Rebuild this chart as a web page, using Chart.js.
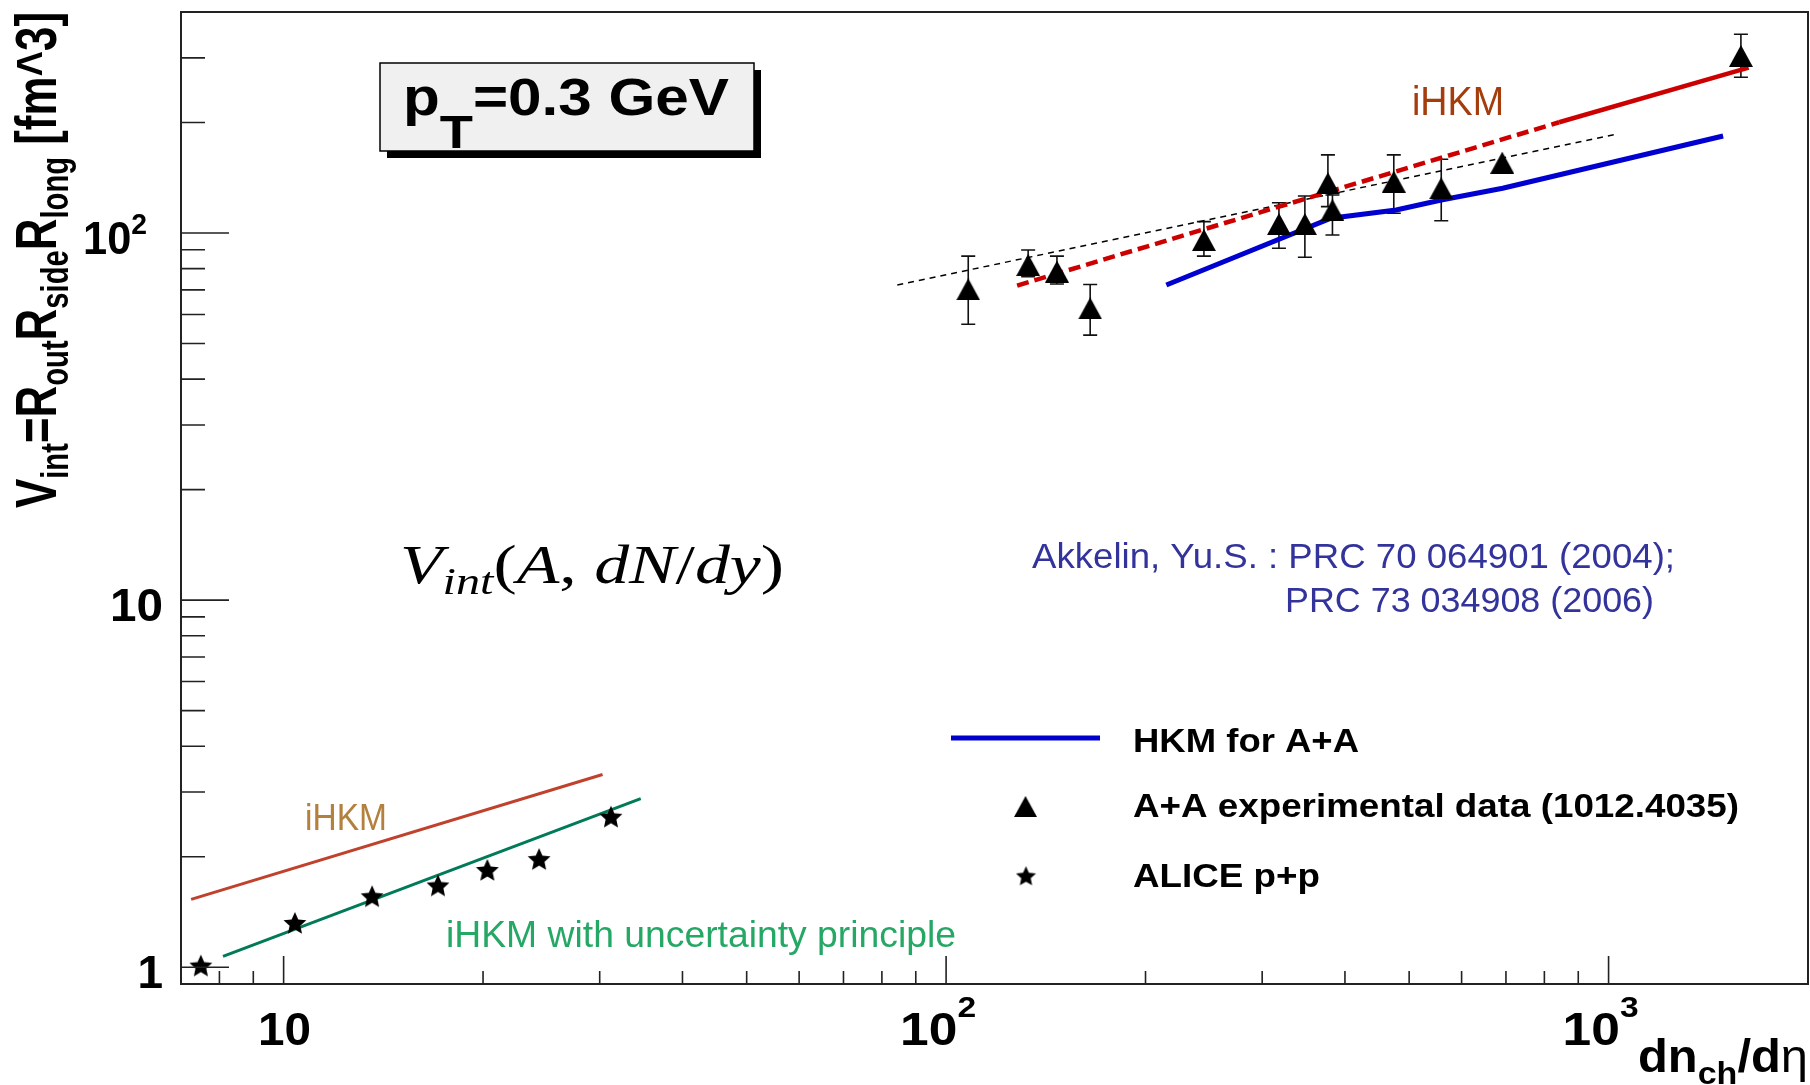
<!DOCTYPE html>
<html>
<head>
<meta charset="utf-8">
<script src="https://cdn.jsdelivr.net/npm/chart.js@4.4.1/dist/chart.umd.min.js"></script>
<style>
  html, body { margin: 0; padding: 0; background: #fff; overflow: hidden; }
  #wrap { width: 1810px; height: 1085px; }
  canvas { display: block; }
</style>
</head>
<body>
<div id="wrap"><canvas id="vint" width="1810" height="1085"></canvas></div>
<script>
// A+A experimental data: dn_ch/deta, V_int and error bar ends
const aaMult = [108, 133, 147, 165, 245, 318, 348, 377, 383, 474, 559, 691, 1584];
const aaVint = [70.2, 81.8, 78.5, 62.3, 95.7, 105.8, 105.8, 136.6, 115.5, 138, 132.4, 155.5, 303.6];
const aaLow  = [56.4, 76.0, 72.6, 52.7, 86.5, 90.9, 85.9, 118, 98.8, 113.2, 108, 155.5, 265.7];
const aaHigh = [86.5, 89.9, 86.5, 72.4, 107.4, 120.9, 126.1, 163.2, 126.9, 163.2, 158.8, 155.5, 347.8];

// ALICE p+p
const ppMult = [7.5, 10.4, 13.6, 17.1, 20.3, 24.3, 31.2];
const ppVint = [1.01, 1.32, 1.56, 1.67, 1.84, 1.97, 2.57];

// HKM for A+A
const hkmMult = [215, 381, 478, 559, 692, 1489];
const hkmVint = [72.2, 109.7, 115.5, 123, 132.4, 183.8];

// iHKM for A+A (dashed part, then solid part)
const ihkmDashMult = [128, 842];
const ihkmDashVint = [71.9, 200.3];
const ihkmSolidMult = [842, 1627];
const ihkmSolidVint = [200.3, 282.1];

// thin dashed trend through the A+A data
const trendMult = [84.4, 1030];
const trendVint = [72.2, 186.1];

// iHKM for p+p, without and with the uncertainty principle
const ppIhkmMult = [7.25, 30.3];
const ppIhkmVint = [1.53, 3.35];
const ppUncMult = [8.1, 34.6];
const ppUncVint = [1.07, 2.88];

// axis ranges and labelled decades
const xMin = 7, xMax = 2000, yMin = 0.9, yMax = 400;
const xDecades = [10, 100, 1000];
const xDecadeText = [['10', ''], ['10', '2'], ['10', '3']];
const yDecades = [1, 10, 100];
const yDecadeText = [['1', ''], ['10', ''], ['10', '2']];

const legendLabels = ['HKM for A+A', 'A+A experimental data (1012.4035)', 'ALICE p+p'];

const pts = (xs, ys) => xs.map((v, i) => ({ x: v, y: ys[i] }));

// filled five-point star used as a marker
function starImage(size) {
  const c = document.createElement('canvas');
  c.width = c.height = size;
  const g = c.getContext('2d');
  const r = size / 2, ri = r * 0.47;
  g.beginPath();
  for (let i = 0; i < 10; i++) {
    const a = -Math.PI / 2 + i * Math.PI / 5;
    const rr = i % 2 ? ri : r;
    g.lineTo(r + rr * Math.cos(a), r * 1.08 + rr * Math.sin(a));
  }
  g.closePath();
  g.fillStyle = '#000';
  g.fill();
  return c;
}

// filled triangle centred on its bounding box, like the ROOT marker
function triangleImage(w, h) {
  const c = document.createElement('canvas');
  c.width = w;
  c.height = h;
  const g = c.getContext('2d');
  g.beginPath();
  g.moveTo(w / 2, 0);
  g.lineTo(w, h);
  g.lineTo(0, h);
  g.closePath();
  g.fillStyle = '#000';
  g.fill();
  return c;
}

const star = starImage(24);
const smallStar = starImage(21);
const triangle = triangleImage(24, 22);

// draws a row of text pieces (sub/superscripts via dy), optionally squeezed to a width
function drawRuns(ctx, parts, x, y, color, width, align) {
  ctx.save();
  ctx.fillStyle = color;
  ctx.textBaseline = 'alphabetic';
  ctx.textAlign = 'left';
  let total = 0;
  for (const p of parts) {
    ctx.font = p.font;
    p.w = ctx.measureText(p.text).width;
    total += p.w;
  }
  const sx = width ? width / total : 1;
  let x0 = x;
  if (align === 'center') x0 = x - total * sx / 2;
  if (align === 'right') x0 = x - total * sx;
  ctx.translate(x0, y);
  ctx.scale(sx, 1);
  let cx = 0;
  for (const p of parts) {
    ctx.font = p.font;
    ctx.fillText(p.text, cx, p.dy || 0);
    cx += p.w;
  }
  ctx.restore();
}

const B = s => 'bold ' + s + 'px "Liberation Sans", Arial, sans-serif';
const N = s => s + 'px "Liberation Sans", Arial, sans-serif';
const SI = s => 'italic ' + s + 'px "Liberation Serif", "Times New Roman", serif';
const SR = s => s + 'px "Liberation Serif", "Times New Roman", serif';

const rootFrame = {
  id: 'rootFrame',
  beforeDatasetsDraw(chart) {
    const { ctx, scales: { x, y } } = chart;
    ctx.save();
    ctx.strokeStyle = '#111';
    ctx.lineWidth = 1.6;
    aaMult.forEach((m, i) => {
      if (aaLow[i] === aaHigh[i]) return;
      const px = x.getPixelForValue(m);
      const y0 = y.getPixelForValue(aaLow[i]);
      const y1 = y.getPixelForValue(aaHigh[i]);
      ctx.beginPath();
      ctx.moveTo(px, y0); ctx.lineTo(px, y1);
      ctx.moveTo(px - 7, y0); ctx.lineTo(px + 7, y0);
      ctx.moveTo(px - 7, y1); ctx.lineTo(px + 7, y1);
      ctx.stroke();
    });
    ctx.restore();
  },
  afterDraw(chart) {
    const { ctx, chartArea: a, scales: { x, y } } = chart;
    ctx.save();

    // frame
    ctx.strokeStyle = '#222';
    ctx.lineWidth = 2;
    ctx.strokeRect(a.left, a.top, a.right - a.left, a.bottom - a.top);

    // tick marks, drawn inside the frame
    ctx.lineWidth = 1.6;
    ctx.beginPath();
    for (let d = 1; d <= 1000; d *= 10) {
      for (let k = 1; k <= 9; k++) {
        const v = k * d;
        if (v > xMin && v < xMax) {
          const px = x.getPixelForValue(v);
          ctx.moveTo(px, a.bottom);
          ctx.lineTo(px, a.bottom - (k === 1 ? 28 : 13));
        }
        if (v >= yMin && v < yMax) {
          const py = y.getPixelForValue(v);
          ctx.moveTo(a.left, py);
          ctx.lineTo(a.left + (k === 1 ? 48 : 24), py);
        }
      }
    }
    ctx.stroke();

    // decade labels
    xDecades.forEach((v, i) => {
      const [base, sup] = xDecadeText[i];
      const parts = [{ text: base, font: B(46) }];
      if (sup) parts.push({ text: sup, font: B(30), dy: -28 });
      drawRuns(ctx, parts, x.getPixelForValue(v) - (sup ? 8 : -1), a.bottom + 61,
        '#000', sup ? 76 : 53, 'center');
    });
    yDecades.forEach((v, i) => {
      const [base, sup] = yDecadeText[i];
      const parts = [{ text: base, font: B(46) }];
      if (sup) parts.push({ text: sup, font: B(30), dy: -20 });
      const w = base.length === 1 ? 0 : (sup ? 64 : 53);
      drawRuns(ctx, parts, a.left - (sup ? 34 : 18), y.getPixelForValue(v) + 21, '#000', w, 'right');
    });

    // x title
    drawRuns(ctx, [
      { text: 'dn', font: B(46) },
      { text: 'ch', font: B(32), dy: 12 },
      { text: '/d', font: B(46) },
      { text: 'η', font: N(46) }
    ], 1638, 1072, '#000', 170);

    // y title, rotated
    ctx.save();
    ctx.translate(56, 508);
    ctx.rotate(-Math.PI / 2);
    drawRuns(ctx, [
      { text: 'V', font: B(57) },
      { text: 'int', font: B(38), dy: 12 },
      { text: '=R', font: B(57) },
      { text: 'out', font: B(38), dy: 12 },
      { text: 'R', font: B(57) },
      { text: 'side', font: B(38), dy: 12 },
      { text: 'R', font: B(57) },
      { text: 'long', font: B(38), dy: 12 },
      { text: ' [fm^3]', font: B(57) }
    ], 0, 0, '#000', 496);
    ctx.restore();

    // pT box with shadow
    ctx.fillStyle = '#000';
    ctx.fillRect(387, 70, 374, 88);
    ctx.fillStyle = '#f0f0f0';
    ctx.fillRect(380, 63, 374, 88);
    ctx.strokeStyle = '#000';
    ctx.lineWidth = 1.5;
    ctx.strokeRect(380, 63, 374, 88);
    drawRuns(ctx, [
      { text: 'p', font: B(51) },
      { text: 'T', font: B(46), dy: 33 },
      { text: '=0.3 GeV', font: B(51) }
    ], 403, 115, '#000', 326);

    // formula
    drawRuns(ctx, [
      { text: 'V', font: SI(55) },
      { text: 'int', font: SI(38), dy: 11 },
      { text: '(', font: SR(55) },
      { text: 'A', font: SI(55) },
      { text: ', ', font: SR(55) },
      { text: 'dN', font: SI(55) },
      { text: '/', font: SR(55) },
      { text: 'dy', font: SI(55) },
      { text: ')', font: SR(55) }
    ], 400, 583, '#000', 384);

    // model labels
    drawRuns(ctx, [{ text: 'iHKM', font: N(40) }], 1412, 115, '#a43c0c', 92);
    drawRuns(ctx, [{ text: 'iHKM', font: N(37) }], 305, 830, '#b3803e', 82);
    drawRuns(ctx, [{ text: 'iHKM with uncertainty principle', font: N(36) }], 446, 947, '#25a865', 510);

    // references
    drawRuns(ctx, [{ text: 'Akkelin, Yu.S. : PRC 70 064901 (2004);', font: N(35) }], 1032, 568, '#33339c', 643);
    drawRuns(ctx, [{ text: 'PRC 73 034908 (2006)', font: N(35) }], 1285, 612, '#33339c', 369);

    // legend
    ctx.strokeStyle = '#0000cc';
    ctx.lineWidth = 5;
    ctx.beginPath();
    ctx.moveTo(951, 738); ctx.lineTo(1100, 738);
    ctx.stroke();
    ctx.drawImage(triangle, 1026 - 12, 807 - 11, 23, 21);
    ctx.drawImage(smallStar, 1026 - 10.5, 876 - 10.5);
    drawRuns(ctx, [{ text: legendLabels[0], font: B(33) }], 1133, 752, '#000', 226);
    drawRuns(ctx, [{ text: legendLabels[1], font: B(33) }], 1133, 817, '#000', 606);
    drawRuns(ctx, [{ text: legendLabels[2], font: B(33) }], 1133, 887, '#000', 187);

    ctx.restore();
  }
};

const lineSet = (data, color, width, dash) => ({
  type: 'line',
  data,
  borderColor: color,
  borderWidth: width,
  borderDash: dash || [],
  pointRadius: 0,
  fill: false,
  tension: 0
});

new Chart(document.getElementById('vint'), {
  type: 'scatter',
  data: {
    datasets: [
      {
        label: legendLabels[1],
        data: pts(aaMult, aaVint),
        pointStyle: triangle,
        pointRadius: 12
      },
      {
        label: legendLabels[2],
        data: pts(ppMult, ppVint),
        pointStyle: star,
        pointRadius: 12
      },
      lineSet(pts(hkmMult, hkmVint), '#0000d0', 5),
      lineSet(pts(ihkmSolidMult, ihkmSolidVint), '#cc0000', 4.5),
      lineSet(pts(ihkmDashMult, ihkmDashVint), '#cc0000', 4.5, [12, 6]),
      lineSet(pts(trendMult, trendVint), '#000', 1.5, [6, 5]),
      lineSet(pts(ppIhkmMult, ppIhkmVint), '#c0412c', 3),
      lineSet(pts(ppUncMult, ppUncVint), '#007a58', 3)
    ]
  },
  options: {
    responsive: false,
    animation: false,
    devicePixelRatio: 1,
    layout: { autoPadding: false, padding: { left: 181, top: 12, right: 2, bottom: 101 } },
    scales: {
      x: { type: 'logarithmic', min: xMin, max: xMax, display: false, ticks: { display: false } },
      y: { type: 'logarithmic', min: yMin, max: yMax, display: false, ticks: { display: false } }
    },
    plugins: {
      legend: { display: false },
      tooltip: { enabled: false }
    }
  },
  plugins: [rootFrame]
});
</script>
</body>
</html>
